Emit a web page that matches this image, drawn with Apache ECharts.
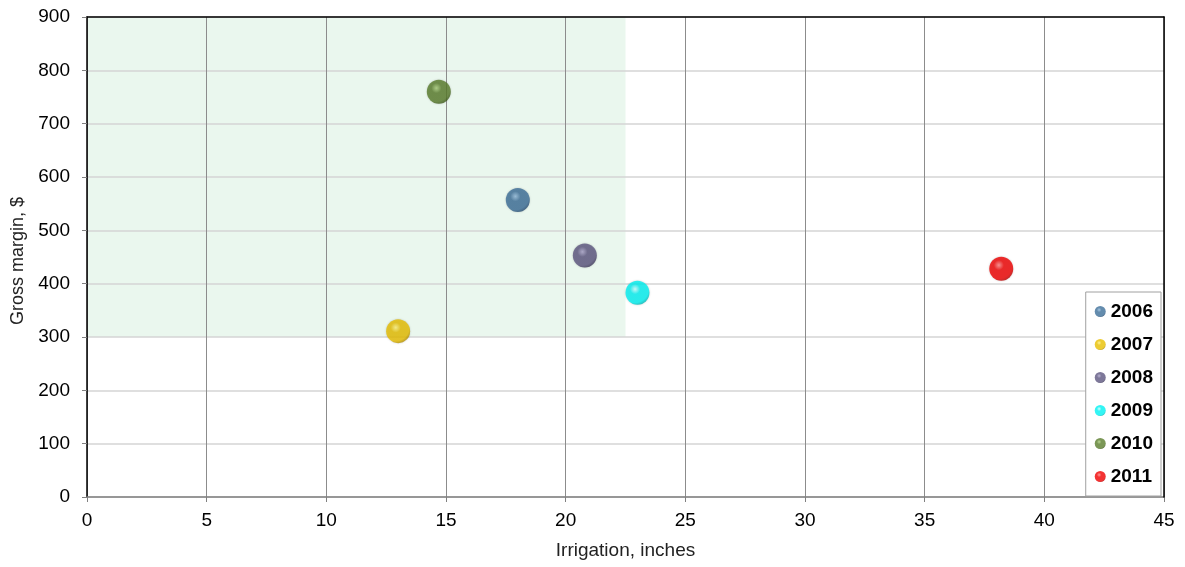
<!DOCTYPE html>
<html><head><meta charset="utf-8">
<script src="https://cdn.jsdelivr.net/npm/echarts@6/dist/echarts.min.js"></script>
<style>html,body{margin:0;padding:0;background:#fff}#c{width:1185px;height:567px}</style>
</head><body><div id="c"></div>
<script>
const years = ['2006','2007','2008','2009','2010','2011'];
const irrigation = [18.0, 13.0, 20.8, 23.0, 14.7, 38.2];
const grossMargin = [557, 311, 453, 383, 760, 428];
const baseColors = ['#3D6F99','#E8BF00','#5D5680','#00F2F2','#5A7D2C','#F00000'];
const lightColors = ['#8FB8DA','#FFF27A','#A8A0C8','#C8FFFF','#A8CC78','#FF8080'];
const darkColors = ['#23456A','#A88400','#3A3455','#00B0B0','#3A5518','#B00000'];
const shadeX = [0, 22.5];
const shadeY = [300, 900];
const xTicks = {min:0, max:45, interval:5};
const yTicks = {min:0, max:900, interval:100};

function sphere(i){
  return {type:'radial', x:0.4, y:0.35, r:0.7, colorStops:[
    {offset:0, color:lightColors[i]},
    {offset:0.3, color:baseColors[i]},
    {offset:0.8, color:baseColors[i]},
    {offset:1, color:darkColors[i]}
  ]};
}
const font = 'Liberation Sans, Arial, sans-serif';
const series = years.map((y,i)=>({
  name:y, type:'scatter', symbol:'circle', symbolSize:24,
  data:[[irrigation[i], grossMargin[i]]],
  itemStyle:{color:sphere(i), shadowBlur:2, shadowColor:'rgba(0,0,0,0.25)'},
  z:6
}));
series.unshift({
  name:'shade', type:'scatter', data:[], silent:true, z:1,
  markArea:{silent:true, z:1, itemStyle:{color:'#EAF7EE'},
    data:[[{coord:[shadeX[0], shadeY[0]]},{coord:[shadeX[1], shadeY[1]]}]]}
});
const chart = echarts.init(document.getElementById('c'), null, {renderer:'canvas'});
const frameAxis = {type:'value', z:5, axisLabel:{show:false}, axisTick:{show:false}, splitLine:{show:false},
  axisLine:{show:true, onZero:false, lineStyle:{color:'#000', width:1.5}}};
chart.setOption({
  animation:false,
  backgroundColor:'#fff',
  grid:{left:87, right:21, top:17, bottom:70, containLabel:false, outerBoundsMode:'none'},
  legend:{
    data:years, orient:'vertical', right:24, top:292,
    icon:'circle', itemWidth:11, itemHeight:11, itemGap:12,
    padding:[9,8,9,9],
    borderColor:'#A0A0A0', borderWidth:1, backgroundColor:'#fff',
    textStyle:{fontFamily:font, fontWeight:'bold', fontSize:19, lineHeight:21, color:'#000'}
  },
  xAxis:[{type:'value', min:xTicks.min, max:xTicks.max, interval:xTicks.interval, z:3,
    name:'Irrigation, inches', nameLocation:'middle', nameGap:44,
    nameTextStyle:{fontFamily:font, fontSize:19, color:'#222'},
    axisLine:{show:true, onZero:false, lineStyle:{color:'#808080', width:1.5}},
    axisTick:{show:true, length:5, lineStyle:{color:'#808080'}},
    axisLabel:{fontFamily:font, fontSize:19, color:'#000', margin:14},
    splitLine:{show:true, lineStyle:{color:'#8C8C8C', width:1}}
  }, Object.assign({position:'top', min:xTicks.min, max:xTicks.max}, frameAxis)],
  yAxis:[{type:'value', min:yTicks.min, max:yTicks.max, interval:yTicks.interval, z:3,
    name:'Gross margin, $', nameLocation:'middle', nameGap:52,
    nameTextStyle:{fontFamily:font, fontSize:18, color:'#222', padding:[0,8,0,0]},
    axisLine:{show:true, onZero:false, lineStyle:{color:'#000', width:1.5}},
    axisTick:{show:true, length:5, lineStyle:{color:'#808080'}},
    axisLabel:{fontFamily:font, fontSize:19, color:'#000', margin:17},
    splitLine:{show:true, lineStyle:{color:'#D4D4D4', width:1.5}}
  }, Object.assign({position:'right', min:yTicks.min, max:yTicks.max}, frameAxis)],
  series:series
});
</script></body></html>
